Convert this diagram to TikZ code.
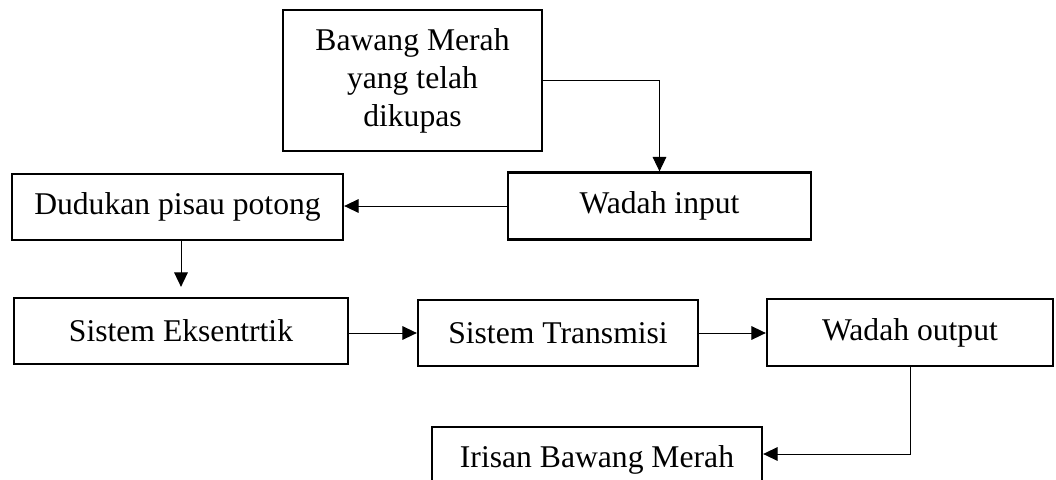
\documentclass[tikz,border=0pt]{standalone}
\usepackage{fontspec}
\setmainfont{Liberation Serif}
\usepackage{tikz}
\usetikzlibrary{arrows.meta}

\begin{document}
\begin{tikzpicture}[x=0.025cm,y=-0.025cm,
		box/.style={draw, line width=1.6pt, inner sep=0pt, align=center,
			font=\fontsize{22.5}{27}\selectfont},
		flow/.style={line width=0.7pt, -{Triangle[length=0.36cm,width=0.34cm]}}]
			\useasboundingbox (0,0) rectangle (1056,479);
			% blok-blok proses
			\node[box, minimum width=6.475cm, minimum height=3.525cm] (bawang) at (412.5,80.5)
				{Bawang Merah\\yang telah\\dikupas};
			\node[box, minimum width=7.575cm, minimum height=1.675cm] (wadahin) at (659.5,206) {Wadah input};
			\node[box, minimum width=8.275cm, minimum height=1.65cm] (dudukan) at (177.5,207) {Dudukan pisau potong};
			\node[box, minimum width=8.35cm, minimum height=1.65cm] (eksentrik) at (181,331) {Sistem Eksentrtik};
			\node[box, minimum width=7cm, minimum height=1.65cm] (transmisi) at (558,333) {Sistem Transmisi};
			\node[box, minimum width=7.15cm, minimum height=1.675cm] (wadahout) at (910,332.5) {Wadah output};
			\node[box, minimum width=8.25cm, minimum height=1.65cm] (irisan) at (597,460) {Irisan Bawang Merah};
			% panah
			\draw[flow] (bawang.east) -| (wadahin.north);
			\draw[flow] (wadahin.west) -- (wadahin.west -| dudukan.east);
			\draw[flow, shorten >=0.25cm] (dudukan.south -| eksentrik.north) -- (eksentrik.north);
			\draw[flow] (eksentrik.east |- transmisi.west) -- (transmisi.west);
			\draw[flow] (transmisi.east) -- (transmisi.east -| wadahout.west);
			\draw[flow] (wadahout.south) |- ([yshift=0.15cm]irisan.east);
		\end{tikzpicture}
\end{document}
